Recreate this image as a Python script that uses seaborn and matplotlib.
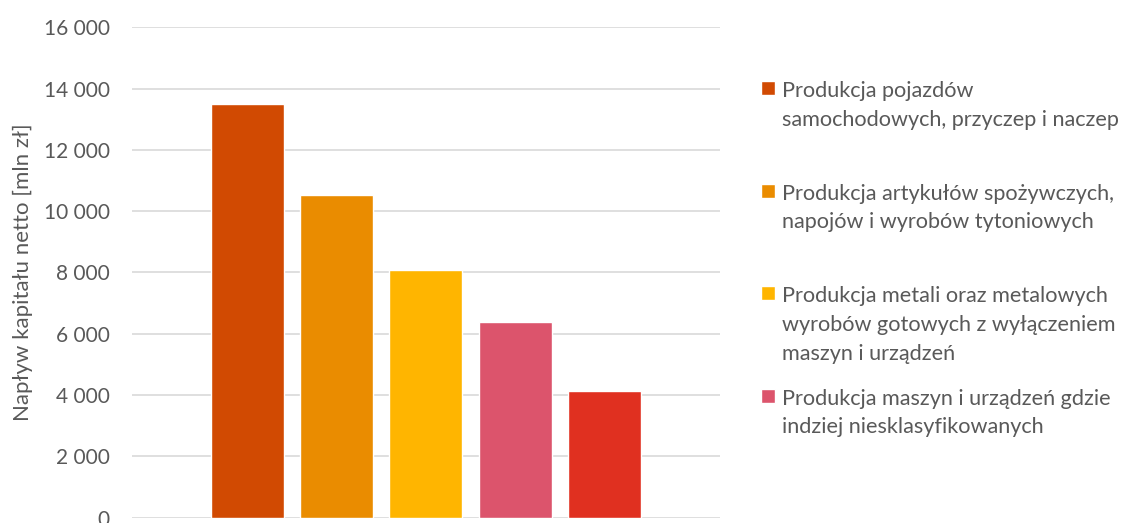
import matplotlib
matplotlib.use("Agg")
import matplotlib.pyplot as plt
from matplotlib.ticker import FuncFormatter, MultipleLocator
import pandas as pd
import seaborn as sns

# dane
branze = [
    "Produkcja pojazdów\nsamochodowych, przyczep i naczep",
    "Produkcja artykułów spożywczych,\nnapojów i wyrobów tytoniowych",
    "Produkcja metali oraz metalowych\nwyrobów gotowych z wyłączeniem\nmaszyn i urządzeń",
    "Produkcja maszyn i urządzeń gdzie\nindziej niesklasyfikowanych",
    "Produkcja wyrobów z gumy\ni tworzyw sztucznych",
]
naplyw = [13500, 10530, 8080, 6390, 4140]
kolory = ["#D14A02", "#EA8C00", "#FFB500", "#DC546C", "#E03020"]

y_label = "Napływ kapitału netto [mln zł]"
gray = "#595959"

sns.set_theme(style="white")
plt.rcParams["font.family"] = ["Lato", "DejaVu Sans"]

df = pd.DataFrame({"branza": branze, "naplyw": naplyw})

fig = plt.figure(figsize=(11.28, 5.23), dpi=100)
ax = fig.add_axes([0.1170, 0.0105, 0.5213, 0.9373])

sns.barplot(data=df, x="branza", y="naplyw", hue="branza", palette=kolory,
            saturation=1, width=0.818, legend=False, ax=ax)

ax.set_xlim(-1.294, 5.294)
ax.set_ylim(0, 16000)
ax.yaxis.set_major_locator(MultipleLocator(2000))
ax.yaxis.set_major_formatter(FuncFormatter(lambda v, p: f"{v:,.0f}".replace(",", " ")))
ax.set_xticks([])
ax.set_xlabel("")
ax.set_ylabel(y_label, color=gray, fontsize=16, labelpad=8)
ax.tick_params(axis="y", length=0, pad=16, labelsize=15, labelcolor=gray)
ax.grid(axis="y", color="#D9D9D9", linewidth=1.2)
ax.set_axisbelow(True)
for s in ax.spines.values():
    s.set_visible(False)

# legenda tylko dla czterech pierwszych branż (piąta ucięta jak w oryginale)
handles = ax.patches[:4]
# każdy wpis dopełniony do trzech wierszy, żeby odstępy były równe
labels = [name + "\n" * (2 - name.count("\n")) for name in branze[:4]]

fs = 15.6
leg = fig.legend(handles, labels, loc="upper left",
                 bbox_to_anchor=(761 / 1128, 1 - 81 / 523),
                 frameon=False, fontsize=fs, borderpad=0, borderaxespad=0,
                 handlelength=0.65, handleheight=0.65, handletextpad=0.33,
                 labelspacing=1.15)
for t in leg.get_texts():
    t.set_color(gray)
    t.set_linespacing(1.55)
# znacznik przy pierwszym wierszu opisu, jak w Excelu
for col in leg._legend_handle_box.get_children():
    for row in col.get_children():
        row.align = "top"

fig.savefig("out.png", dpi=100)
